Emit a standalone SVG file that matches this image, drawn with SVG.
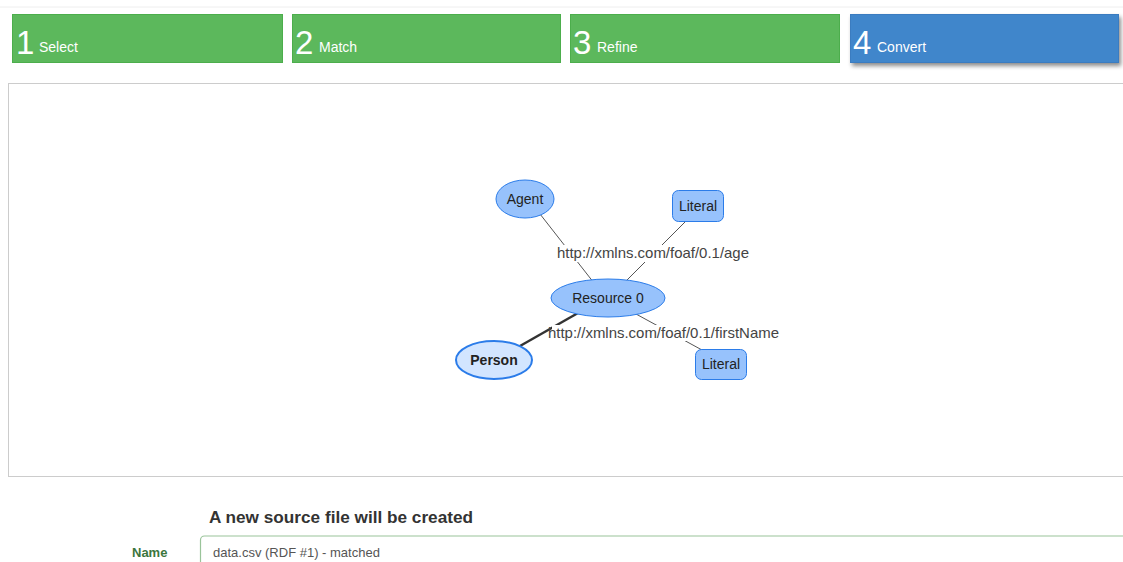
<svg xmlns="http://www.w3.org/2000/svg" width="1123" height="562" viewBox="0 0 1123 562">
<defs>
<style>
.step{fill:#5cb85c;stroke:#4cae4c;stroke-width:1}
.stepblue{fill:#3f86cb;stroke:#3a7cc0;stroke-width:1}
.num{font-family:"Liberation Sans",Arial,sans-serif;font-size:33px;fill:#fff}
.lbl{font-family:"Liberation Sans",Arial,sans-serif;font-size:14px;fill:#fff}
.node{fill:#97c2fc;stroke:#2b7ce9;stroke-width:1}
.sel{fill:#d2e5ff;stroke:#2b7ce9;stroke-width:2}
.nt{font-family:"Liberation Sans",Arial,sans-serif;font-size:14px;fill:#222;text-anchor:middle;dominant-baseline:central}
.edge{stroke:#555;stroke-width:1;fill:none}
.edgesel{stroke:#333;stroke-width:2.5;fill:none}
.el{font-family:"Liberation Sans",Arial,sans-serif;font-size:14.5px;fill:#444}
</style>
<filter id="sh" x="-5%" y="-20%" width="115%" height="160%">
<feDropShadow dx="2" dy="3" stdDeviation="2" flood-color="#000" flood-opacity="0.45"/>
</filter>
</defs>
<rect width="1123" height="562" fill="#fff"/>
<line x1="0" y1="7" x2="1123" y2="7" stroke="#eee" stroke-width="1"/>

<g id="step1">
<rect class="step" x="12.5" y="14.5" width="270" height="48"/>
<text class="num" x="16" y="54">1</text>
<text class="lbl" x="39" y="52">Select</text>
</g>
<g id="step2">
<rect class="step" x="292.5" y="14.5" width="268" height="48"/>
<text class="num" x="295" y="54">2</text>
<text class="lbl" x="319" y="52">Match</text>
</g>
<g id="step3">
<rect class="step" x="570.5" y="14.5" width="269" height="48"/>
<text class="num" x="573" y="54">3</text>
<text class="lbl" x="597" y="52">Refine</text>
</g>
<g id="step4">
<rect class="stepblue" x="850.5" y="14.5" width="268" height="48" filter="url(#sh)"/>
<text class="num" x="853" y="54">4</text>
<text class="lbl" x="877" y="52">Convert</text>
</g>

<rect id="panel" x="8.5" y="83.5" width="1130" height="393" fill="#fff" stroke="#ccc" stroke-width="1"/>

<g id="connectors">
<line class="edge" x1="540" y1="214" x2="594" y2="283"/>
<line class="edge" x1="686" y1="221" x2="624" y2="283"/>
<line class="edge" x1="636" y1="314" x2="702" y2="350"/>
<line class="edgesel" x1="520" y1="346" x2="578" y2="313"/>
<rect x="556" y="245" width="195" height="17" fill="#fff"/>
<text class="el" x="557" y="258" textLength="192" lengthAdjust="spacingAndGlyphs">http://xmlns.com/foaf/0.1/age</text>
<rect x="552" y="325" width="229" height="16" fill="#fff"/>
<text class="el" x="548" y="338" textLength="231" lengthAdjust="spacingAndGlyphs">http://xmlns.com/foaf/0.1/firstName</text>
</g>

<g id="agent">
<ellipse class="node" cx="525" cy="199" rx="29" ry="19"/>
<text class="nt" x="525" y="199">Agent</text>
</g>
<g id="literal1">
<rect class="node" x="672.5" y="190.5" width="51" height="31" rx="6"/>
<text class="nt" x="698" y="206">Literal</text>
</g>
<g id="resource0">
<ellipse class="node" cx="608" cy="298" rx="57" ry="19"/>
<text class="nt" x="608" y="298">Resource 0</text>
</g>
<g id="person">
<ellipse class="sel" cx="494" cy="360" rx="38" ry="19"/>
<text class="nt" x="494" y="360" font-weight="bold">Person</text>
</g>
<g id="literal2">
<rect class="node" x="695.5" y="349.5" width="51" height="30" rx="6"/>
<text class="nt" x="721" y="364">Literal</text>
</g>

<g id="form">
<text x="209" y="523" font-family="'Liberation Sans',Arial,sans-serif" font-size="17" font-weight="bold" fill="#333" textLength="264" lengthAdjust="spacingAndGlyphs">A new source file will be created</text>
<text x="132" y="557" font-family="'Liberation Sans',Arial,sans-serif" font-size="13" font-weight="bold" fill="#3c763d">Name</text>
<path d="M200.5 570 V540 a4 4 0 0 1 4 -4 H1130" fill="#fff" stroke="#9ac49a" stroke-width="1.2"/>
<text x="213" y="557" font-family="'Liberation Sans',Arial,sans-serif" font-size="13" fill="#555">data.csv (RDF #1) - matched</text>
</g>
</svg>
